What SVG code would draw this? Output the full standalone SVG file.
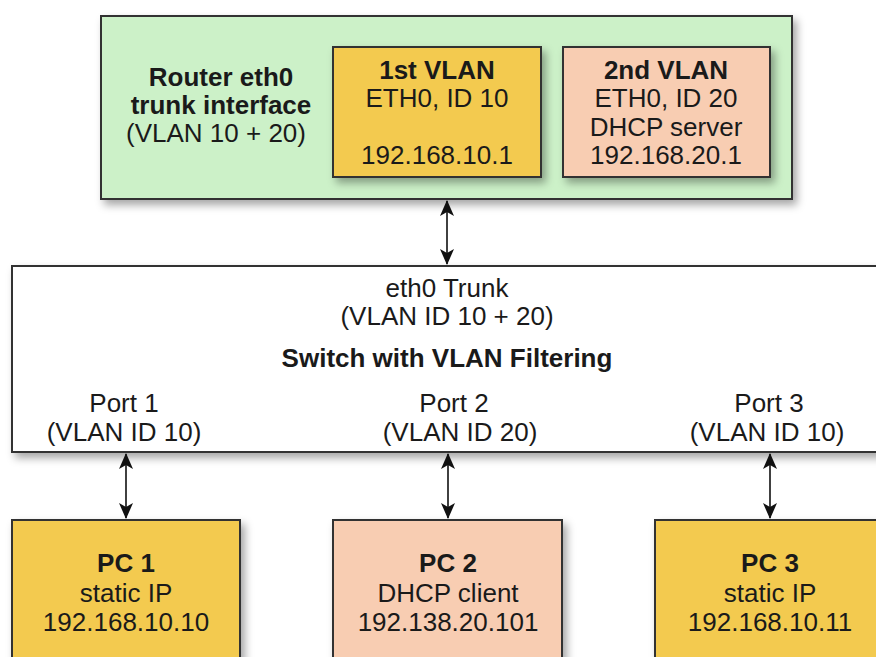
<svg xmlns="http://www.w3.org/2000/svg" width="876" height="657" viewBox="0 0 876 657">
<style>
text{font-family:"Liberation Sans",Arial,sans-serif;font-size:26px;fill:#1a1a1a;text-anchor:middle}
.b{font-weight:bold}
.box{stroke:#333;stroke-width:2}
.g{fill:#ccf1c8}
.y{fill:#f3ca50}
.p{fill:#f8cdb2}
.w{fill:#fff}
.c{stroke:#111;stroke-width:1.6;fill:none;marker-start:url(#ah);marker-end:url(#ah)}
</style>
<defs>
<filter id="sh" x="-10%" y="-10%" width="130%" height="140%">
<feDropShadow dx="4" dy="5" stdDeviation="4" flood-color="#000" flood-opacity="0.35"/>
</filter>
<marker id="ah" viewBox="0 0 16 14" refX="15" refY="7" markerWidth="16" markerHeight="14" markerUnits="userSpaceOnUse" orient="auto-start-reverse">
<path d="M0,0 L16,7 L0,14 L4,7 Z" fill="#111"/>
</marker>
</defs>
<g id="router">
<rect class="box g" x="101" y="16" width="691" height="183" filter="url(#sh)"/>
<text class="b" x="221" y="86">Router eth0</text>
<text class="b" x="221" y="114">trunk interface</text>
<text x="216" y="142">(VLAN 10 + 20)</text>
</g>
<g id="vlan1">
<rect class="box y" x="333" y="47" width="208" height="130" filter="url(#sh)"/>
<text class="b" x="437" y="79">1st VLAN</text>
<text x="437" y="107">ETH0, ID 10</text>
<text x="437" y="164">192.168.10.1</text>
</g>
<g id="vlan2">
<rect class="box p" x="563" y="47" width="207" height="130" filter="url(#sh)"/>
<text class="b" x="666" y="79">2nd VLAN</text>
<text x="666" y="107">ETH0, ID 20</text>
<text x="666" y="136">DHCP server</text>
<text x="666" y="164">192.168.20.1</text>
</g>
<g id="switch">
<rect class="box w" x="12" y="266" width="880" height="186" filter="url(#sh)"/>
<text x="447" y="297">eth0 Trunk</text>
<text x="447" y="325">(VLAN ID 10 + 20)</text>
<text class="b" x="447" y="367">Switch with VLAN Filtering</text>
<text x="124" y="412">Port 1</text>
<text x="124" y="441">(VLAN ID 10)</text>
<text x="454" y="412">Port 2</text>
<text x="460" y="441">(VLAN ID 20)</text>
<text x="769" y="412">Port 3</text>
<text x="767" y="441">(VLAN ID 10)</text>
</g>
<g id="pc1">
<rect class="box y" x="12" y="520" width="228" height="150" filter="url(#sh)"/>
<text class="b" x="126" y="572">PC 1</text>
<text x="126" y="602">static IP</text>
<text x="126" y="631">192.168.10.10</text>
</g>
<g id="pc2">
<rect class="box p" x="333" y="520" width="229" height="150" filter="url(#sh)"/>
<text class="b" x="448" y="572">PC 2</text>
<text x="448" y="602">DHCP client</text>
<text x="448" y="631">192.138.20.101</text>
</g>
<g id="pc3">
<rect class="box y" x="655" y="520" width="240" height="150" filter="url(#sh)"/>
<text class="b" x="770" y="572">PC 3</text>
<text x="770" y="602">static IP</text>
<text x="770" y="631">192.168.10.11</text>
</g>
<g id="connectors">
<path class="c" d="M447,201 V264"/>
<path class="c" d="M126,454 V518"/>
<path class="c" d="M448,454 V518"/>
<path class="c" d="M770,454 V518"/>
</g>
</svg>
